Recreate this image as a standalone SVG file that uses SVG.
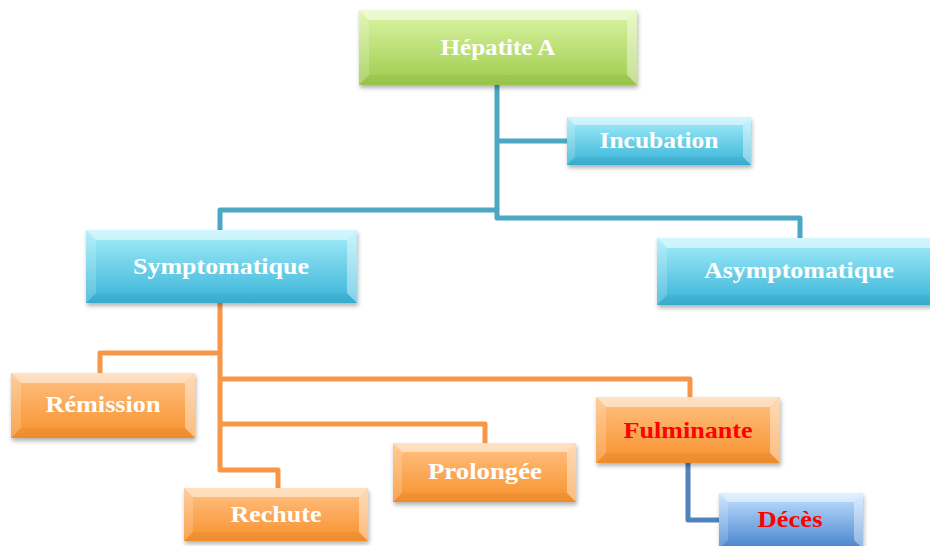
<svg xmlns="http://www.w3.org/2000/svg" width="930" height="546" viewBox="0 0 930 546">
<defs>
<linearGradient id="gGreen" x1="0" y1="0" x2="0" y2="1"><stop offset="0" stop-color="#DDF6A6"/><stop offset="1" stop-color="#9DCB4C"/></linearGradient>
<linearGradient id="gCyan" x1="0" y1="0" x2="0" y2="1"><stop offset="0" stop-color="#A6EEFB"/><stop offset="1" stop-color="#38B3D7"/></linearGradient>
<linearGradient id="gOrange" x1="0" y1="0" x2="0" y2="1"><stop offset="0" stop-color="#FFC285"/><stop offset="1" stop-color="#F8912C"/></linearGradient>
<linearGradient id="gBlue" x1="0" y1="0" x2="0" y2="1"><stop offset="0" stop-color="#C4E2FF"/><stop offset="1" stop-color="#4683CF"/></linearGradient>
<filter id="sh" x="-10%" y="-10%" width="120%" height="130%"><feDropShadow dx="1" dy="3" stdDeviation="2" flood-color="#000" flood-opacity="0.3"/></filter>
</defs>
<style>
.t{font-family:"Liberation Serif","Times New Roman",serif;font-weight:bold;font-size:24px;fill:#fff;text-anchor:middle}
.red{fill:#FF0000}
.bt{fill:#fff;fill-opacity:0.5}
.bl{fill:#fff;fill-opacity:0.18}
.br{fill:#fff;fill-opacity:0.4}
.bb{fill:#000;fill-opacity:0.04}
.teal{fill:none;stroke:#4BA7C2;stroke-width:5;stroke-linejoin:round}
.org{fill:none;stroke:#F79646;stroke-width:5;stroke-linejoin:round}
.blu{fill:none;stroke:#4F81BD;stroke-width:5;stroke-linejoin:round}
</style>
<g id="connectors">
<path class="teal" d="M497,85 V218 H800 V238"/>
<path class="teal" d="M220,230 V210 H497"/>
<path class="teal" d="M497,141 H567"/>
<path class="org" d="M220,303 V470 H278 V488"/>
<path class="org" d="M220,353 H100 V373"/>
<path class="org" d="M220,379 H690 V397"/>
<path class="org" d="M220,424 H485 V443"/>
<path class="blu" d="M688,463 V520 H719"/>
</g>
<g id="hepatite">
<rect x="359" y="10" width="278" height="75" fill="url(#gGreen)" filter="url(#sh)"/>
<polygon class="bt" points="359,10 637,10 627,20 369,20"/>
<polygon class="bl" points="359,10 369,20 369,75 359,85"/>
<polygon class="br" points="637,10 637,85 627,75 627,20"/>
<polygon class="bb" points="359,85 369,75 627,75 637,85"/>
<text class="t" x="498" y="55" textLength="115" lengthAdjust="spacingAndGlyphs">Hépatite A</text>
</g>
<g id="incubation">
<rect x="567" y="117" width="184" height="48" fill="url(#gCyan)" filter="url(#sh)"/>
<polygon class="bt" points="567,117 751,117 743,125 575,125"/>
<polygon class="bl" points="567,117 575,125 575,157 567,165"/>
<polygon class="br" points="751,117 751,165 743,157 743,125"/>
<polygon class="bb" points="567,165 575,157 743,157 751,165"/>
<text class="t" x="659" y="148" textLength="119" lengthAdjust="spacingAndGlyphs">Incubation</text>
</g>
<g id="symptomatique">
<rect x="86" y="230" width="271" height="73" fill="url(#gCyan)" filter="url(#sh)"/>
<polygon class="bt" points="86,230 357,230 347,240 96,240"/>
<polygon class="bl" points="86,230 96,240 96,293 86,303"/>
<polygon class="br" points="357,230 357,303 347,293 347,240"/>
<polygon class="bb" points="86,303 96,293 347,293 357,303"/>
<text class="t" x="221" y="274" textLength="176" lengthAdjust="spacingAndGlyphs">Symptomatique</text>
</g>
<g id="asymptomatique">
<rect x="657" y="238" width="290" height="67" fill="url(#gCyan)" filter="url(#sh)"/>
<polygon class="bt" points="657,238 947,238 937,248 667,248"/>
<polygon class="bl" points="657,238 667,248 667,295 657,305"/>
<polygon class="bb" points="657,305 667,295 937,295 947,305"/>
<text class="t" x="799" y="278" textLength="190" lengthAdjust="spacingAndGlyphs">Asymptomatique</text>
</g>
<g id="remission">
<rect x="11" y="373" width="184" height="65" fill="url(#gOrange)" filter="url(#sh)"/>
<polygon class="bt" points="11,373 195,373 185,383 21,383"/>
<polygon class="bl" points="11,373 21,383 21,428 11,438"/>
<polygon class="br" points="195,373 195,438 185,428 185,383"/>
<polygon class="bb" points="11,438 21,428 185,428 195,438"/>
<text class="t" x="103" y="412" textLength="115" lengthAdjust="spacingAndGlyphs">Rémission</text>
</g>
<g id="rechute">
<rect x="184" y="488" width="184" height="53" fill="url(#gOrange)" filter="url(#sh)"/>
<polygon class="bt" points="184,488 368,488 359,497 193,497"/>
<polygon class="bl" points="184,488 193,497 193,532 184,541"/>
<polygon class="br" points="368,488 368,541 359,532 359,497"/>
<polygon class="bb" points="184,541 193,532 359,532 368,541"/>
<text class="t" x="276" y="522" textLength="91" lengthAdjust="spacingAndGlyphs">Rechute</text>
</g>
<g id="prolongee">
<rect x="393" y="443" width="183" height="59" fill="url(#gOrange)" filter="url(#sh)"/>
<polygon class="bt" points="393,443 576,443 567,452 402,452"/>
<polygon class="bl" points="393,443 402,452 402,493 393,502"/>
<polygon class="br" points="576,443 576,502 567,493 567,452"/>
<polygon class="bb" points="393,502 402,493 567,493 576,502"/>
<text class="t" x="485" y="479" textLength="114" lengthAdjust="spacingAndGlyphs">Prolongée</text>
</g>
<g id="fulminante">
<rect x="596" y="397" width="184" height="66" fill="url(#gOrange)" filter="url(#sh)"/>
<polygon class="bt" points="596,397 780,397 770,407 606,407"/>
<polygon class="bl" points="596,397 606,407 606,453 596,463"/>
<polygon class="br" points="780,397 780,463 770,453 770,407"/>
<polygon class="bb" points="596,463 606,453 770,453 780,463"/>
<text class="t red" x="688" y="438" textLength="129" lengthAdjust="spacingAndGlyphs">Fulminante</text>
</g>
<g id="deces">
<rect x="719" y="493" width="144" height="56" fill="url(#gBlue)" filter="url(#sh)"/>
<polygon class="bt" points="719,493 863,493 854,502 728,502"/>
<polygon class="bl" points="719,493 728,502 728,540 719,549"/>
<polygon class="br" points="863,493 863,549 854,540 854,502"/>
<text class="t red" x="790" y="527" textLength="65" lengthAdjust="spacingAndGlyphs">Décès</text>
</g>
</svg>
